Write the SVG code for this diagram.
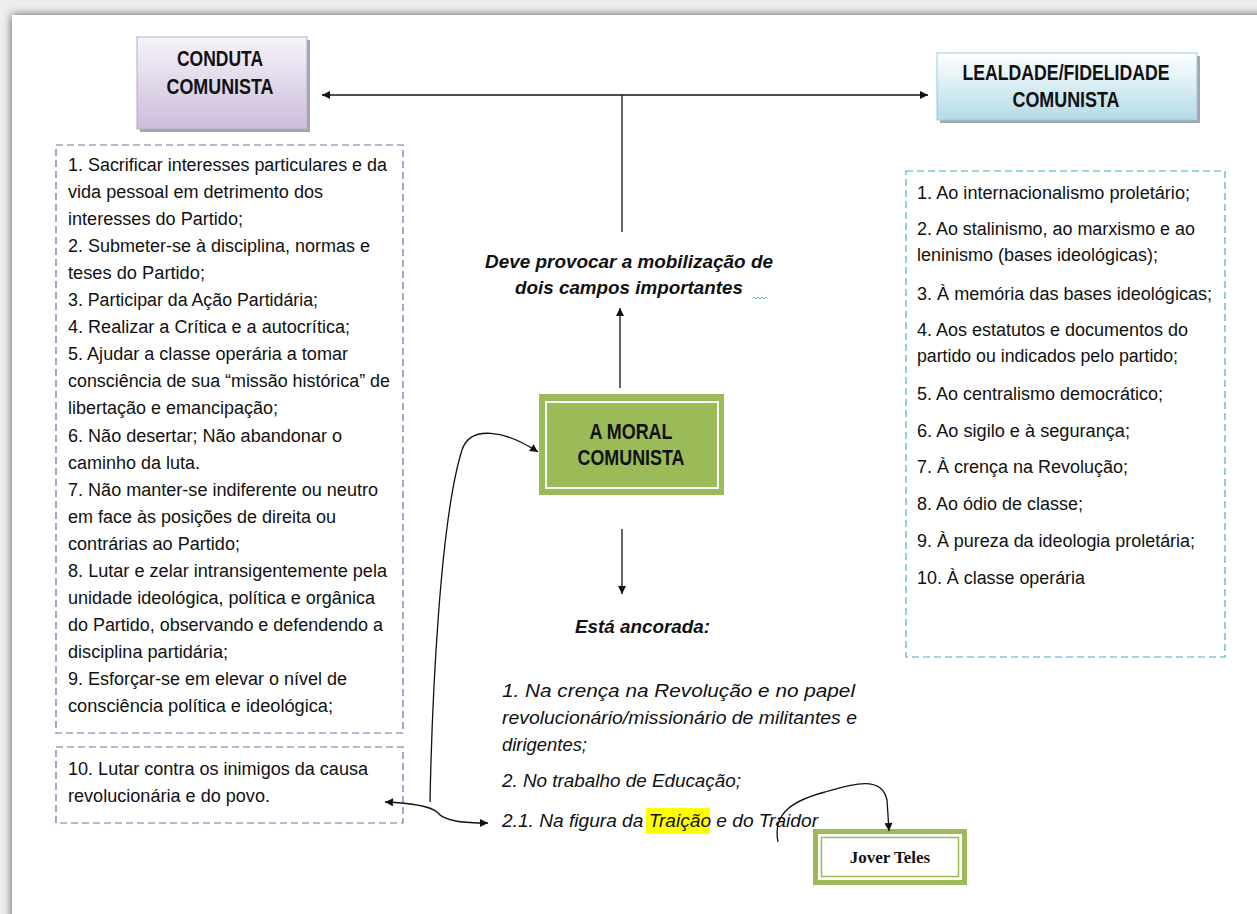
<svg xmlns="http://www.w3.org/2000/svg" width="1257" height="914" viewBox="0 0 1257 914">
<defs>
<linearGradient id="gPurple" x1="0" y1="0" x2="0" y2="1"><stop offset="0" stop-color="#f6f3f9"/><stop offset="1" stop-color="#cbbddb"/></linearGradient>
<linearGradient id="gBlue" x1="0" y1="0" x2="0" y2="1"><stop offset="0" stop-color="#ffffff"/><stop offset="1" stop-color="#b3dbe7"/></linearGradient>
<filter id="pageShadow" x="-0.05" y="-0.05" width="1.1" height="1.1"><feGaussianBlur stdDeviation="5"/></filter>
<marker id="ah" viewBox="0 0 10 10" refX="10" refY="5" markerWidth="9" markerHeight="8" orient="auto-start-reverse" markerUnits="userSpaceOnUse"><path d="M0,0 L10,5 L0,10 z" fill="#111"/></marker>
<style>
.body{font-family:"Liberation Sans Narrow","Liberation Sans",Arial,sans-serif;font-size:18px;fill:#111}
.head{font-family:"Liberation Sans Narrow","Liberation Sans",Arial,sans-serif;font-size:22px;font-weight:bold;fill:#111}
.bi{font-family:"Liberation Sans",Arial,sans-serif;font-size:19px;font-weight:bold;font-style:italic;fill:#111}
.it{font-family:"Liberation Sans",Arial,sans-serif;font-size:18px;font-style:italic;fill:#111}
.conn{fill:none;stroke:#111;stroke-width:1.3}
.dashP{fill:#fff;stroke:#8064a2;stroke-width:1.2;stroke-dasharray:7 4}
.dashB{fill:#fff;stroke:#4bacc6;stroke-width:1.2;stroke-dasharray:7 4}
</style>
</defs>
<rect x="0" y="0" width="1257" height="914" fill="#eeeeee"/>
<rect x="12" y="15" width="1300" height="1000" fill="#555" filter="url(#pageShadow)"/>
<rect x="12" y="15" width="1300" height="1000" fill="#ffffff"/>

<g id="conduta">
<rect x="140" y="40" width="170" height="92" fill="#a6a6a6"/>
<rect x="137" y="37" width="170" height="92" fill="url(#gPurple)" stroke="#b7a8cc" stroke-width="1"/>
<text class="head" x="220" y="66" text-anchor="middle" textLength="86" lengthAdjust="spacingAndGlyphs">CONDUTA</text>
<text class="head" x="220" y="94" text-anchor="middle" textLength="107" lengthAdjust="spacingAndGlyphs">COMUNISTA</text>
</g>

<g id="lealdade">
<rect x="940" y="56" width="260" height="67" fill="#a6a6a6"/>
<rect x="937" y="53" width="260" height="67" fill="url(#gBlue)" stroke="#92cddc" stroke-width="1"/>
<text class="head" x="1066" y="80" text-anchor="middle" textLength="207" lengthAdjust="spacingAndGlyphs">LEALDADE/FIDELIDADE</text>
<text class="head" x="1066" y="107" text-anchor="middle" textLength="107" lengthAdjust="spacingAndGlyphs">COMUNISTA</text>
</g>

<g id="conduta-list">
<rect class="dashP" x="56" y="145" width="347" height="588"/>
<text class="body" x="68" y="171" textLength="319" lengthAdjust="spacingAndGlyphs">1. Sacrificar interesses particulares e da</text>
<text class="body" x="68" y="198" textLength="255" lengthAdjust="spacingAndGlyphs">vida pessoal em detrimento dos</text>
<text class="body" x="68" y="225" textLength="175" lengthAdjust="spacingAndGlyphs">interesses do Partido;</text>
<text class="body" x="68" y="252" textLength="302" lengthAdjust="spacingAndGlyphs">2. Submeter-se à disciplina, normas e</text>
<text class="body" x="68" y="279" textLength="137" lengthAdjust="spacingAndGlyphs">teses do Partido;</text>
<text class="body" x="68" y="306" textLength="250" lengthAdjust="spacingAndGlyphs">3. Participar da Ação Partidária;</text>
<text class="body" x="68" y="333" textLength="282" lengthAdjust="spacingAndGlyphs">4. Realizar a Crítica e a autocrítica;</text>
<text class="body" x="68" y="360" textLength="280" lengthAdjust="spacingAndGlyphs">5. Ajudar a classe operária a tomar</text>
<text class="body" x="68" y="387" textLength="322" lengthAdjust="spacingAndGlyphs">consciência de sua “missão histórica” de</text>
<text class="body" x="68" y="414" textLength="210" lengthAdjust="spacingAndGlyphs">libertação e emancipação;</text>
<text class="body" x="68" y="442" textLength="274" lengthAdjust="spacingAndGlyphs">6. Não desertar; Não abandonar o</text>
<text class="body" x="68" y="469" textLength="132" lengthAdjust="spacingAndGlyphs">caminho da luta.</text>
<text class="body" x="68" y="496" textLength="310" lengthAdjust="spacingAndGlyphs">7. Não manter-se indiferente ou neutro</text>
<text class="body" x="68" y="523" textLength="268" lengthAdjust="spacingAndGlyphs">em face às posições de direita ou</text>
<text class="body" x="68" y="550" textLength="172" lengthAdjust="spacingAndGlyphs">contrárias ao Partido;</text>
<text class="body" x="68" y="577" textLength="319" lengthAdjust="spacingAndGlyphs">8. Lutar e zelar intransigentemente pela</text>
<text class="body" x="68" y="604" textLength="307" lengthAdjust="spacingAndGlyphs">unidade ideológica, política e orgânica</text>
<text class="body" x="68" y="631" textLength="315" lengthAdjust="spacingAndGlyphs">do Partido, observando e defendendo a</text>
<text class="body" x="68" y="658" textLength="160" lengthAdjust="spacingAndGlyphs">disciplina partidária;</text>
<text class="body" x="68" y="685" textLength="279" lengthAdjust="spacingAndGlyphs">9. Esforçar-se em elevar o nível de</text>
<text class="body" x="68" y="712" textLength="265" lengthAdjust="spacingAndGlyphs">consciência política e ideológica;</text>
</g>

<g id="conduta-item10">
<rect class="dashP" x="56" y="747" width="347" height="76"/>
<text class="body" x="68" y="775" textLength="300" lengthAdjust="spacingAndGlyphs">10. Lutar contra os inimigos da causa</text>
<text class="body" x="68" y="802" textLength="202" lengthAdjust="spacingAndGlyphs">revolucionária e do povo.</text>
</g>

<g id="lealdade-list">
<rect class="dashB" x="906" y="171" width="319" height="486"/>
<text class="body" x="917" y="199" textLength="273" lengthAdjust="spacingAndGlyphs">1. Ao internacionalismo proletário;</text>
<text class="body" x="917" y="235" textLength="278" lengthAdjust="spacingAndGlyphs">2. Ao stalinismo, ao marxismo e ao</text>
<text class="body" x="917" y="261" textLength="241" lengthAdjust="spacingAndGlyphs">leninismo (bases ideológicas);</text>
<text class="body" x="917" y="300" textLength="295" lengthAdjust="spacingAndGlyphs">3. À memória das bases ideológicas;</text>
<text class="body" x="917" y="336" textLength="271" lengthAdjust="spacingAndGlyphs">4. Aos estatutos e documentos do</text>
<text class="body" x="917" y="362" textLength="261" lengthAdjust="spacingAndGlyphs">partido ou indicados pelo partido;</text>
<text class="body" x="917" y="400" textLength="246" lengthAdjust="spacingAndGlyphs">5. Ao centralismo democrático;</text>
<text class="body" x="917" y="437" textLength="213" lengthAdjust="spacingAndGlyphs">6. Ao sigilo e à segurança;</text>
<text class="body" x="917" y="473" textLength="211" lengthAdjust="spacingAndGlyphs">7. À crença na Revolução;</text>
<text class="body" x="917" y="510" textLength="166" lengthAdjust="spacingAndGlyphs">8. Ao ódio de classe;</text>
<text class="body" x="917" y="547" textLength="278" lengthAdjust="spacingAndGlyphs">9. À pureza da ideologia proletária;</text>
<text class="body" x="917" y="584" textLength="168" lengthAdjust="spacingAndGlyphs">10. À classe operária</text>
</g>

<g id="mobilizacao">
<text class="bi" x="485" y="268" textLength="288" lengthAdjust="spacingAndGlyphs">Deve provocar a mobilização de</text>
<text class="bi" x="515" y="294" textLength="228" lengthAdjust="spacingAndGlyphs">dois campos importantes</text>
<path d="M754,297 l2,2 l2,-2 l2,2 l2,-2 l2,2 l2,-2" fill="none" stroke="#3aa35a" stroke-width="0.8"/>
</g>

<g id="moral">
<rect x="539" y="394" width="185" height="101" fill="#9bbb59"/>
<rect x="546" y="402" width="172" height="86" fill="none" stroke="#ffffff" stroke-width="2"/>
<text class="head" x="631" y="439" text-anchor="middle" textLength="83" lengthAdjust="spacingAndGlyphs">A MORAL</text>
<text class="head" x="631" y="465" text-anchor="middle" textLength="107" lengthAdjust="spacingAndGlyphs">COMUNISTA</text>
</g>

<g id="ancorada">
<text class="bi" x="575" y="633" textLength="135" lengthAdjust="spacingAndGlyphs">Está ancorada:</text>
<text class="it" x="502" y="697" textLength="353" lengthAdjust="spacingAndGlyphs">1. Na crença na Revolução e no papel</text>
<text class="it" x="502" y="724" textLength="355" lengthAdjust="spacingAndGlyphs">revolucionário/missionário de militantes e</text>
<text class="it" x="502" y="751" textLength="85" lengthAdjust="spacingAndGlyphs">dirigentes;</text>
<text class="it" x="502" y="787" textLength="239" lengthAdjust="spacingAndGlyphs">2. No trabalho de Educação;</text>
<rect x="646" y="808" width="64" height="26" fill="#ffff00"/>
<text class="it" x="502" y="827" textLength="316" lengthAdjust="spacingAndGlyphs">2.1. Na figura da Traição e do Traidor</text>
</g>

<g id="jover">
<rect x="815.5" y="831.5" width="149" height="51" fill="#ffffff" stroke="#9bbb59" stroke-width="5"/>
<rect x="821.5" y="837.5" width="137" height="39" fill="none" stroke="#9bbb59" stroke-width="1.5"/>
<text x="890" y="863" text-anchor="middle" font-family="Liberation Serif,'Times New Roman',serif" font-size="17" font-weight="bold" fill="#111">Jover Teles</text>
</g>

<g id="connectors">
<path class="conn" d="M322,95 L928,95" marker-start="url(#ah)" marker-end="url(#ah)"/>
<path class="conn" d="M622,95 L622,232"/>
<path class="conn" d="M620,388 L620,308" marker-end="url(#ah)"/>
<path class="conn" d="M622,529 L622,594" marker-end="url(#ah)"/>
<path class="conn" d="M430,802 C432,700 440,520 462,450 C470,425 505,430 538,452" marker-end="url(#ah)"/>
<path class="conn" d="M385,802 C410,803 430,806 437,812 C445,822 465,823 488,823" marker-start="url(#ah)" marker-end="url(#ah)"/>
<path class="conn" d="M778,842 C772,812 795,800 825,792 C855,783 882,776 887,800 L889,831" stroke="#333" marker-end="url(#ah)"/>
</g>
</svg>
